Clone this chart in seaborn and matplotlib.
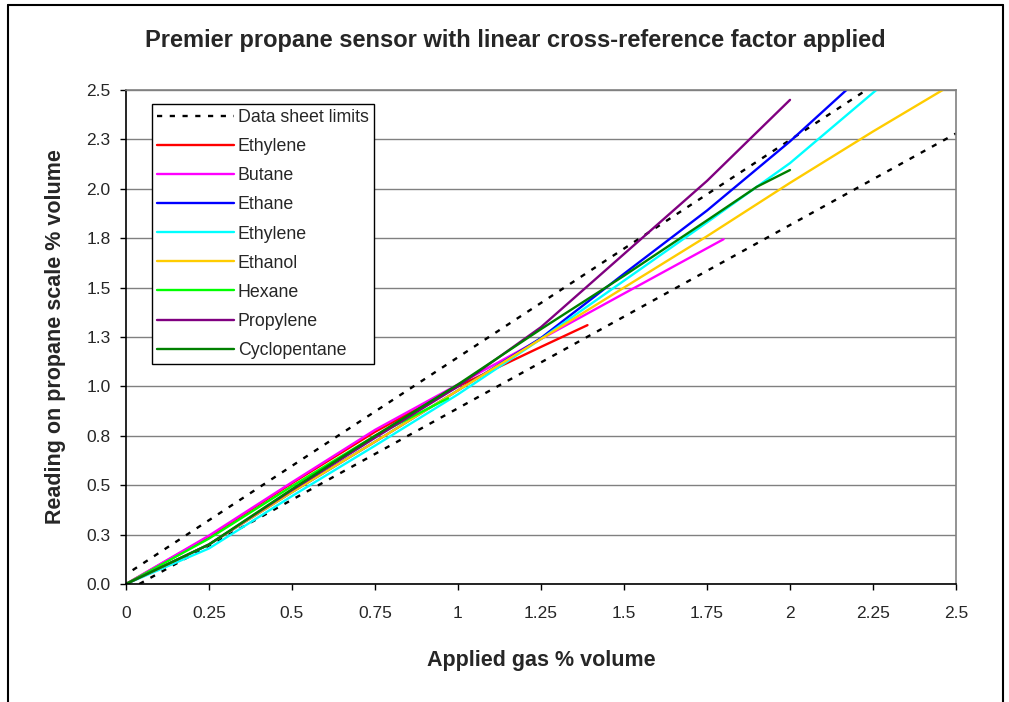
import matplotlib
matplotlib.use("Agg")
import matplotlib.pyplot as plt
from matplotlib.lines import Line2D
import seaborn as sns
import pandas as pd

# data
limit_upper_x = [0.02, 2.23]
limit_upper_y = [0.07, 2.5]
limit_lower_x = [0.04, 2.5]
limit_lower_y = [0.0, 2.28]

ethylene_x = [0, 0.25, 0.5, 0.75, 1.0, 1.25, 1.39]
ethylene_y = [0, 0.24, 0.51, 0.77, 1.0, 1.2, 1.31]

butane_x = [0, 0.25, 0.5, 0.75, 1.0, 1.25, 1.5, 1.8]
butane_y = [0, 0.245, 0.515, 0.78, 1.01, 1.24, 1.47, 1.745]

ethane_x = [0, 0.25, 0.5, 0.75, 1.0, 1.25, 1.5, 1.75, 2.0, 2.17]
ethane_y = [0, 0.2, 0.465, 0.72, 0.98, 1.245, 1.57, 1.89, 2.24, 2.5]

ethylene2_x = [0, 0.25, 0.5, 0.75, 1.0, 1.25, 1.5, 1.75, 2.0, 2.26]
ethylene2_y = [0, 0.18, 0.445, 0.7, 0.96, 1.24, 1.535, 1.83, 2.13, 2.5]

ethanol_x = [0, 0.25, 0.5, 0.75, 1.0, 1.25, 1.5, 1.75, 2.0, 2.25, 2.46]
ethanol_y = [0, 0.2, 0.465, 0.72, 0.98, 1.24, 1.5, 1.76, 2.03, 2.29, 2.5]

hexane_x = [0, 0.25, 0.5, 0.75, 0.97]
hexane_y = [0, 0.23, 0.495, 0.75, 0.94]

propylene_x = [0, 0.25, 0.5, 0.75, 1.0, 1.25, 1.5, 1.75, 2.0]
propylene_y = [0, 0.2, 0.475, 0.74, 1.0, 1.3, 1.67, 2.04, 2.45]

cyclopentane_x = [0, 0.25, 0.5, 0.75, 1.0, 1.25, 1.5, 1.75, 1.9, 2.0]
cyclopentane_y = [0, 0.2, 0.48, 0.75, 1.01, 1.29, 1.56, 1.84, 2.01, 2.095]

x_ticks = [0, 0.25, 0.5, 0.75, 1.0, 1.25, 1.5, 1.75, 2.0, 2.25, 2.5]
x_tick_labels = ['0', '0.25', '0.5', '0.75', '1', '1.25', '1.5', '1.75', '2', '2.25', '2.5']
y_ticks = [0, 0.25, 0.5, 0.75, 1.0, 1.25, 1.5, 1.75, 2.0, 2.25, 2.5]
y_tick_labels = ['0.0', '0.3', '0.5', '0.8', '1.0', '1.3', '1.5', '1.8', '2.0', '2.3', '2.5']

series = [
    ('Ethylene', ethylene_x, ethylene_y, '#FF0000'),
    ('Butane', butane_x, butane_y, '#FF00FF'),
    ('Ethane', ethane_x, ethane_y, '#0000FF'),
    ('Ethylene', ethylene2_x, ethylene2_y, '#00FFFF'),
    ('Ethanol', ethanol_x, ethanol_y, '#FFCC00'),
    ('Hexane', hexane_x, hexane_y, '#00FF00'),
    ('Propylene', propylene_x, propylene_y, '#800080'),
    ('Cyclopentane', cyclopentane_x, cyclopentane_y, '#008000'),
]

sns.set_style('white')
plt.rcParams['font.family'] = ['Liberation Sans', 'DejaVu Sans']

fig = plt.figure(figsize=(10.09, 7.02), dpi=100)
ax = fig.add_axes([126 / 1009, 1 - 584 / 702, 830 / 1009, 494 / 702])

dash = (0, (2.2, 3.2))
sns.lineplot(x=limit_upper_x, y=limit_upper_y, ax=ax, color='black', lw=1.7,
             linestyle=dash, sort=False, estimator=None)
sns.lineplot(x=limit_lower_x, y=limit_lower_y, ax=ax, color='black', lw=1.7,
             linestyle=dash, sort=False, estimator=None)

for name, xs, ys, col in series:
    df = pd.DataFrame({'x': xs, 'y': ys})
    sns.lineplot(data=df, x='x', y='y', ax=ax, color=col, lw=1.7,
                 sort=False, estimator=None)

ax.set_xlim(0, 2.5)
ax.set_ylim(0, 2.5)
ax.set_xticks(x_ticks)
ax.set_xticklabels(x_tick_labels)
ax.set_yticks(y_ticks)
ax.set_yticklabels(y_tick_labels)
ax.tick_params(axis='both', which='major', labelsize=12.5, direction='out',
               length=4, width=1, color='black', bottom=True, left=True)
ax.tick_params(axis='y', pad=7)
ax.tick_params(axis='x', pad=12)

ax.grid(axis='y', color='#808080', lw=1)
ax.grid(axis='x', visible=False)
ax.set_axisbelow(True)
for s in ['top', 'right']:
    ax.spines[s].set_color('#808080')
    ax.spines[s].set_linewidth(1.2)
for s in ['left', 'bottom']:
    ax.spines[s].set_color('black')
    ax.spines[s].set_linewidth(1.2)

ax.set_xlabel('Applied gas % volume', fontsize=15.5, fontweight='bold', labelpad=21)
ax.set_ylabel('Reading on propane scale % volume', fontsize=15.5, fontweight='bold', labelpad=15)
fig.text(515 / 1009, 1 - 40 / 702,
         'Premier propane sensor with linear cross-reference factor applied',
         ha='center', va='center', fontsize=17, fontweight='bold')

handles = [Line2D([], [], color='black', lw=1.7, linestyle=dash)]
labels = ['Data sheet limits']
for name, xs, ys, col in series:
    handles.append(Line2D([], [], color=col, lw=1.7))
    labels.append(name)
leg = ax.legend(handles, labels, loc='upper left', bbox_to_anchor=(0.031, 0.972),
                borderaxespad=0, fontsize=12.8, handlelength=4.3, handletextpad=0.25,
                labelspacing=0.68, borderpad=0.3, frameon=True, fancybox=False,
                framealpha=1, edgecolor='black')
leg.get_frame().set_linewidth(1.0)

# outer chart border
fig.add_artist(Line2D([8 / 1009, 8 / 1009], [0, 1 - 5 / 702], color='black', lw=1.5,
                      transform=fig.transFigure))
fig.add_artist(Line2D([8 / 1009, 1003 / 1009], [1 - 5 / 702, 1 - 5 / 702], color='black',
                      lw=1.5, transform=fig.transFigure))
fig.add_artist(Line2D([1003 / 1009, 1003 / 1009], [0, 1 - 5 / 702], color='black', lw=1.5,
                      transform=fig.transFigure))

plt.savefig('out.png', dpi=100)
